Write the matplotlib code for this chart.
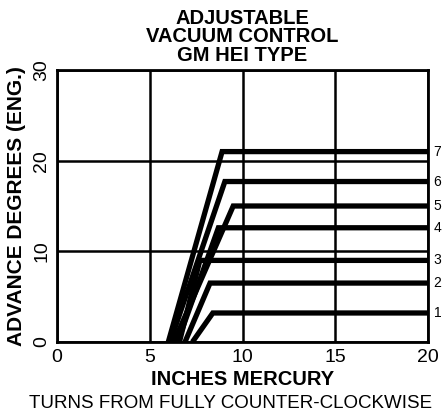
import numpy as np
import matplotlib.pyplot as plt

plt.rcParams['font.family'] = ['Liberation Sans', 'DejaVu Sans']

turns = ['1', '2', '3', '4', '5', '6', '7']
start_hg = [7.3, 6.9, 6.6, 6.5, 6.3, 6.1, 6.0]
knee_hg = [8.4, 8.25, 7.7, 8.7, 9.5, 9.05, 8.9]
max_adv = [3.2, 6.5, 9.0, 12.6, 15.0, 17.7, 21.0]
end_hg = 20

fig = plt.figure(figsize=(4.43, 4.13), dpi=100)
ax = fig.add_axes([57/443, 1 - 342/413, (428-57)/443, (342-70)/413])

for t, s, k, m in zip(turns, start_hg, knee_hg, max_adv):
    ax.plot([s, k, end_hg], [0, m, m], color='black', lw=3.8,
            solid_joinstyle='miter', solid_capstyle='butt', zorder=3)
    ax.text(20.3, m, t, fontsize=10, va='center', ha='left')

ax.set_xlim(0, 20)
ax.set_ylim(0, 30)
ax.set_xticks([0, 5, 10, 15, 20])
ax.set_yticks([0, 10, 20, 30])
ax.grid(True, color='black', lw=1.8)
ax.tick_params(length=0, labelsize=14, pad=5)
for lab in ax.get_yticklabels():
    lab.set_rotation(90)
    lab.set_va('center')
for sp in ax.spines.values():
    sp.set_linewidth(2)

ax.set_ylabel('ADVANCE DEGREES (ENG.)', fontsize=15, fontweight='bold', labelpad=5)
ax.set_xlabel('INCHES MERCURY', fontsize=14.5, fontweight='bold', labelpad=3)
fig.text(242/443, 1 - 37/413, 'ADJUSTABLE\nVACUUM CONTROL\nGM HEI TYPE',
         ha='center', va='center', fontsize=14.5, fontweight='bold', linespacing=0.95)
fig.text(231/443, 1 - 403/413, 'TURNS FROM FULLY COUNTER-CLOCKWISE',
         ha='center', va='center', fontsize=13.5)

fig.savefig('out.png', dpi=100)
